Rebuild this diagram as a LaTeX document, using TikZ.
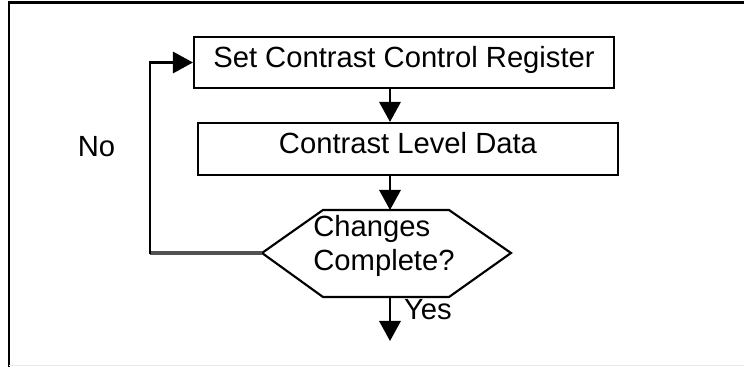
\documentclass[tikz,border=0pt]{standalone}
\usepackage{fontspec}
\setmainfont{Liberation Sans}
\usetikzlibrary{arrows.meta}
\begin{document}
\begin{tikzpicture}[x=0.75pt,y=-0.75pt,
  font=\fontsize{21.9pt}{25.5pt}\selectfont,
  line width=1.6pt,
  stepbox/.style={draw,rectangle,line width=1.6pt,inner sep=0pt,text height=0.72em,text depth=0pt},
  arr/.style={-{Triangle[length=15pt,width=16pt]}},
  lbl/.style={inner sep=0pt,text height=0.72em,text depth=0pt}]
\useasboundingbox (0,0) rectangle (744,367);
% frame
\draw[line width=1.6pt] (9,367) -- (9,2.5) -- (744,2.5);
\draw[line width=1pt,black!8] (9,365.5) -- (744,365.5);
% boxes
\node[stepbox,minimum width=315pt,minimum height=38.25pt] (b1) at (404,62.5) {Set Contrast Control Register};
\node[stepbox,minimum width=315pt,minimum height=39pt] (b2) at (408,149) {Contrast Level Data};
% decision hexagon
\coordinate (dw) at (262,253);
\coordinate (dtop) at (390,210);
\coordinate (dbot) at (390,297);
\draw[line width=1.6pt] (dw) -- (323,210) -- (449,210) -- (511,253) -- (449,297) -- (323,297) -- cycle;
\node[align=left,inner sep=0pt] (dec) at (384,246) {Changes\\[0pt]Complete?};
% arrows
\coordinate (ax) at (390,0);
\draw[arr] (ax |- b1.south) -- (ax |- b2.north);
\draw[arr] (ax |- b2.south) -- (dtop);
\coordinate (yend) at (390,341);
\draw[arr] (dbot) -- (yend);
\node[lbl,anchor=west] (yes) at (403,315) {Yes};
% feedback loop
\coordinate (lc) at (150,253);
\coordinate (tc) at (150,62.5);
\draw[line width=3pt,black!68] (dw) -- (lc);
\draw[arr] ([yshift=-1pt]lc) -- (tc) -- (b1.west);
\node[lbl] (no) at (96.5,152) {No};
\end{tikzpicture}
\end{document}
